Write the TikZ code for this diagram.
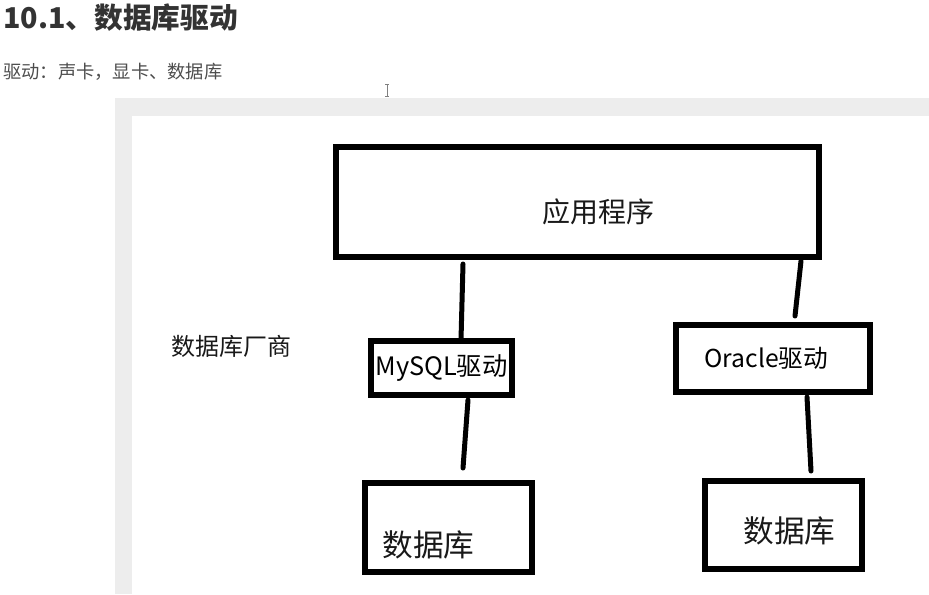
\documentclass[tikz,border=0pt]{standalone}
\usepackage{fontspec}
\setmainfont{Noto Sans CJK SC}
\usepackage{tikz}
\usetikzlibrary{positioning, calc}
\definecolor{headgray}{HTML}{333333}
\definecolor{subgray}{HTML}{4D4D4D}
\definecolor{panelgray}{HTML}{EDEDED}

\begin{document}
\begin{tikzpicture}[
    x=0.75pt, y=-0.75pt,
    box/.style={draw, line width=4.5pt, fill=white, inner sep=0pt, outer sep=0pt},
    link/.style={line width=3.75pt, line cap=round},
    boxtext/.style={inner sep=0pt, text=black!90},
]
\useasboundingbox[fill=white] (0,0) rectangle (929,594);

% page heading
\node[anchor=base west, inner sep=0pt, text=headgray, font=\fontsize{21.5pt}{26pt}\selectfont\bfseries] (title) at (3,28) {10.1、数据库驱动};
\node[anchor=base west, inner sep=0pt, text=subgray, font=\fontsize{13.7pt}{16pt}\selectfont] (sub) at (3,78) {驱动：声卡，显卡、数据库};

% text cursor
\draw[gray, line width=0.6pt] (387,84) -- (387,96) (385,84) -- (389,84) (385,96) -- (389,96);

% drawing panel
\fill[panelgray] (115,98) rectangle (929,594);
\fill[white] (132,116) rectangle (929,594);

% boxes
\node[box, minimum width=362.25pt, minimum height=82.5pt] (app) at (577.5,202) {};
\node[boxtext, font=\fontsize{21pt}{25pt}\selectfont] (apptxt) at ($(app.center)+(21,10)$) {应用程序};

\node[box, minimum width=105.75pt, minimum height=40.5pt, font=\fontsize{19pt}{22pt}\selectfont] (mysql) at (441.5,368) {MySQL驱动};
\node[box, minimum width=145.5pt, minimum height=50.25pt, font=\fontsize{18.5pt}{22pt}\selectfont] (oracle) at (773,358.5) {\hspace*{-10pt}Oracle驱动};

\node[box, minimum width=125.25pt, minimum height=66.75pt] (db1) at (448.5,527.5) {};
\node[boxtext, font=\fontsize{23pt}{27pt}\selectfont] (db1txt) at ($(db1.center)+(-20,17)$) {数据库};
\node[box, minimum width=117.75pt, minimum height=66pt] (db2) at (783.5,525) {};
\node[boxtext, font=\fontsize{23pt}{27pt}\selectfont] (db2txt) at ($(db2.center)+(6,6)$) {数据库};

\node[boxtext, font=\fontsize{18pt}{22pt}\selectfont] (vendor) at (231,346) {数据库厂商};

% connectors
\draw[link] ($(app.south west)+(127,7)$) -- ($(mysql.north west)+(90,-1)$);
\draw[link] ($(mysql.south west)+(97,5)$) -- ($(db1.north west)+(98,-15)$);
\draw[link] ($(app.south west)+(465,4)$) -- ($(oracle.north west)+(119,-9)$);
\draw[link] ($(oracle.south west)+(131,5)$) -- ($(db2.north west)+(106,-10)$);
\end{tikzpicture}
\end{document}
